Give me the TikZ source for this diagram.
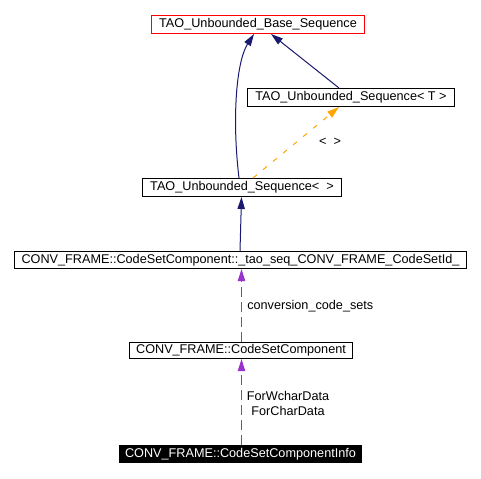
\documentclass[tikz,border=0pt]{standalone}
\usepackage{fontspec}
\setmainfont{Liberation Sans}
\usetikzlibrary{arrows.meta}
\definecolor{navyedge}{HTML}{191970}
\definecolor{purpleedge}{HTML}{9A32CD}
\definecolor{orangeedge}{HTML}{FFA500}
\definecolor{rootred}{HTML}{FF0000}
\begin{document}
\begin{tikzpicture}[x=0.75pt,y=-0.75pt,
  font=\fontsize{9.5pt}{11pt}\selectfont,
  cls/.style={draw=black,line width=0.75pt,inner sep=0pt,minimum height=13.5pt,fill=white},
  rootcls/.style={cls,draw=rootred},
  tip/.style={-{Triangle[length=9pt,width=5.5pt]}},
  inherit/.style={tip,draw=navyedge,line width=0.75pt},
  useedge/.style={tip,draw=purpleedge,line width=0.75pt,dash pattern=on 7.5pt off 3.75pt},
  tmpl/.style={tip,draw=orangeedge,line width=0.75pt,dash pattern=on 3.75pt off 6pt},
  lbl/.style={inner sep=0pt,align=center}]
\useasboundingbox (0,0) rectangle (481,478);
\node[rootcls,minimum width=159.75pt] (base) at (258,24.5) {TAO\_Unbounded\_Base\_Sequence};
\node[cls,minimum width=155.25pt] (seqT) at (351,97.5) {TAO\_Unbounded\_Sequence< T >};
\node[cls,minimum width=149.25pt] (seq) at (242,187.5) {TAO\_Unbounded\_Sequence<\ \ >};
\node[cls,minimum width=339pt,minimum height=12.75pt] (taoseq) at (240.5,260) {CONV\_FRAME::CodeSetComponent::\_tao\_seq\_CONV\_FRAME\_CodeSetId\_};
\node[cls,minimum width=167.25pt,minimum height=12pt] (csc) at (241,350.5) {CONV\_FRAME::CodeSetComponent};
\node[cls,draw=none,fill=black,text=white,minimum width=182.25pt,minimum height=13.5pt] (info) at (240.5,454) {CONV\_FRAME::CodeSetComponentInfo};
\draw[inherit] ([xshift=-2.25pt]seq.north) .. controls (232,120) and (236,62) .. ([xshift=-3pt]base.south);
\draw[inherit] ([xshift=-9pt]seqT.north) -- ([xshift=9.75pt]base.south);
\draw[tmpl] ([xshift=8.25pt]seq.north) -- ([xshift=-9pt]seqT.south);
\node[lbl] (tlbl) at (330,142) {<\ \ >};
\draw[inherit] ([xshift=-0.375pt]taoseq.north) -- ([xshift=-0.375pt]seq.south);
\draw[useedge] ([xshift=0.375pt]csc.north) -- ([xshift=0.75pt]taoseq.south);
\node[lbl,anchor=west] (cclbl) at (247,306) {conversion\_code\_sets};
\draw[useedge] ([xshift=0.75pt]info.north) -- ([xshift=0.375pt]csc.south);
\node[lbl,font=\fontsize{9.5pt}{11.25pt}\selectfont] (wclbl) at (288,403.5) {ForWcharData\\ForCharData};
\end{tikzpicture}
\end{document}
